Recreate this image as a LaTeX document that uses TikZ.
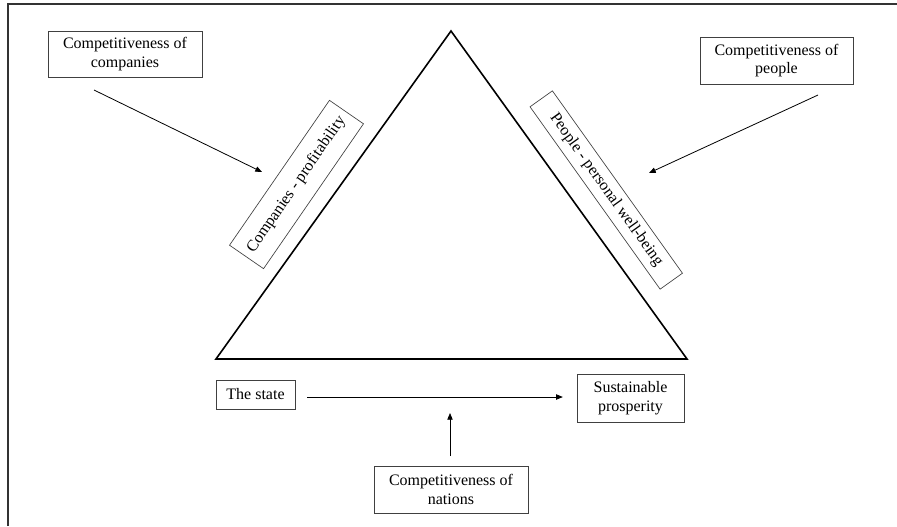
\documentclass[tikz,border=0pt]{standalone}
\usepackage{fontspec}
\setmainfont{Liberation Serif}
\usetikzlibrary{arrows.meta,calc}
\tikzstyle{box} = [draw=black!75, line width=0.5pt, align=center, inner sep=2pt,
                   font=\fontsize{12}{13.8}\selectfont]
\tikzstyle{connector} = [line width=0.6pt, -{Triangle[length=5pt,width=4pt]}]

\begin{document}
\begin{tikzpicture}[x=0.75pt,y=-0.75pt]
                \useasboundingbox (0,0) rectangle (897,526);
                % frame
                \draw [line width=1.3pt, black!80] (8,526) -- (8,4) -- (897,4);

                % triangle
                \coordinate (top) at (451,31);
                \coordinate (bl) at (216,359);
                \coordinate (br) at (687,359);
                \draw [line width=1.2pt] (top) -- (bl) -- (br) -- cycle;

                \node (cc) [box, minimum width=115.5pt, minimum height=34.5pt] at (125,54) {Competitiveness of\\companies};
                \node (cp) [box, minimum width=115pt, minimum height=35pt] at (776.5,60.5) {Competitiveness of\\people};
                \node (cn) [box, minimum width=115.5pt, minimum height=35pt] at (451,489.5) {Competitiveness of\\nations};
                \node (state) [box, minimum width=59pt, minimum height=22pt] at (255.5,394.5) {The state};
                \node (sust) [box, minimum width=80pt, minimum height=36pt] at (630.5,398) {Sustainable\\prosperity};

                \node (comp) [box, rotate=55.4, minimum width=132pt, minimum height=31pt] at (296.5,184.5) {Companies - profitability};
                \node (peop) [box, rotate=-54.5, minimum width=168pt, minimum height=20.6pt] at (606.25,190) {People - personal well-being};

                \coordinate (c1) at (94,90);
                \coordinate (c2) at (262,172);
                \coordinate (p1) at (818,95);
                \coordinate (p2) at (649,173);
                \coordinate (n1) at (450,456);
                \coordinate (n2) at (450,413);

                \draw [connector] (c1) -- (c2);
                \draw [connector] (p1) -- (p2);
                \draw [connector] (n1) -- (n2);
                \draw [connector, shorten <=9pt, shorten >=10.5pt] (state.east |- 0,397) -- (sust.west |- 0,397);
            \end{tikzpicture}
\end{document}
